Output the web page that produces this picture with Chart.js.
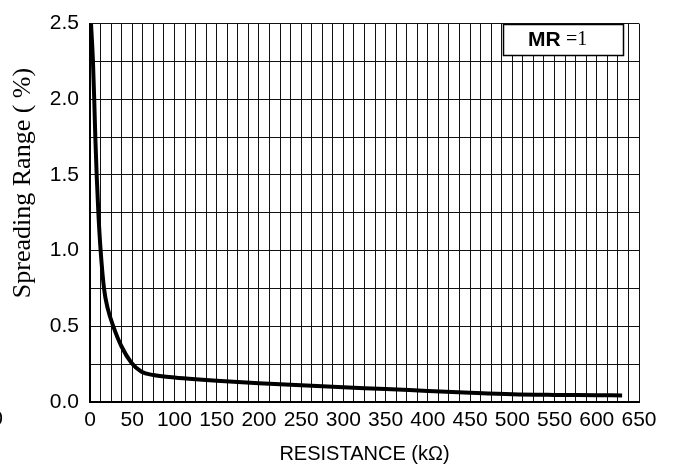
<!DOCTYPE html>
<html>
<head>
<meta charset="utf-8">
<script src="https://cdn.jsdelivr.net/npm/chart.js@4/dist/chart.umd.min.js"></script>
<style>
  html, body { margin: 0; padding: 0; background: #fff; }
  #c { display: block; }
</style>
</head>
<body>
<canvas id="c" width="681" height="468"></canvas>
<script>
// ---- data ----
const resistance = [1.2, 3.5, 5, 6.3, 7.9, 9.9, 12.6, 16.6, 20.9, 27.6, 37.5, 49, 61, 75, 100, 125, 150, 200, 250, 300, 350, 400, 450, 500, 550, 600, 630];
const spreading  = [2.5, 2.25, 2.0, 1.75, 1.5, 1.25, 1.0, 0.75, 0.62, 0.5, 0.365, 0.26, 0.2, 0.178, 0.162, 0.15, 0.14, 0.124, 0.11, 0.097, 0.086, 0.073, 0.061, 0.051, 0.047, 0.045, 0.043];
const xTickLabels = ["0","50","100","150","200","250","300","350","400","450","500","550","600","650"];
const yTickLabels = ["0.0","0.5","1.0","1.5","2.0","2.5"];
const xTitle = "RESISTANCE (k\u03A9)";
const yTitle = "Spreading Range ( %)";
const legendBold = "MR";
const legendRest = "=1";

const points = resistance.map((x, i) => ({ x: x, y: spreading[i] }));

const overlayPlugin = {
  id: 'overlay',
  afterDraw(chart) {
    const ctx = chart.ctx;
    ctx.save();
    // y-axis title (rotated)
    ctx.translate(23, 183);
    ctx.rotate(-Math.PI / 2);
    ctx.fillStyle = '#000';
    ctx.font = '26px "Liberation Serif", serif';
    ctx.textAlign = 'center';
    ctx.textBaseline = 'middle';
    ctx.fillText(yTitle, 0, 0);
    ctx.restore();

    // legend box
    ctx.save();
    const bx = 503, by = 24, bw = 120, bh = 31;
    ctx.fillStyle = '#fff';
    ctx.fillRect(bx, by, bw, bh);
    ctx.strokeStyle = '#000';
    ctx.lineWidth = 1.5;
    ctx.strokeRect(bx + 0.5, by + 0.5, bw, bh);
    ctx.fillStyle = '#000';
    ctx.textBaseline = 'middle';
    ctx.textAlign = 'left';
    ctx.font = 'bold 21px "Liberation Sans", Arial, sans-serif';
    ctx.fillText(legendBold, 528, 40);
    ctx.font = '20px "Liberation Serif", serif';
    ctx.fillText(legendRest, 566, 40);
    ctx.restore();

    // stray clipped "0" at left edge
    ctx.save();
    ctx.fillStyle = '#000';
    ctx.font = '21px "Liberation Sans", Arial, sans-serif';
    ctx.textAlign = 'center';
    ctx.textBaseline = 'middle';
    ctx.fillText('0', -3, 419);
    ctx.restore();
  }
};

new Chart(document.getElementById('c'), {
  type: 'line',
  data: {
    datasets: [{
      data: points,
      borderColor: '#000',
      borderWidth: 4,
      pointRadius: 0,
      fill: false,
      cubicInterpolationMode: 'monotone',
      tension: 0.4
    }]
  },
  options: {
    responsive: false,
    animation: false,
    layout: { autoPadding: false, padding: { left: 0, top: 16, right: 42, bottom: 0 } },
    plugins: { legend: { display: false }, tooltip: { enabled: false } },
    scales: {
      x: {
        type: 'linear',
        min: 0, max: 650,
        afterFit(s) { s.height = 66; },
        border: { display: true, color: '#000', width: 2 },
        grid: { color: '#111', lineWidth: 1, drawTicks: false },
        ticks: {
          stepSize: 12.5,
          autoSkip: false,
          maxRotation: 0,
          padding: 6,
          color: '#000',
          font: { family: '"Liberation Sans", Arial, sans-serif', size: 21 },
          callback(v) {
            const idx = Math.round(v / 50);
            return (Math.abs(v - idx * 50) < 1e-6) ? xTickLabels[idx] : '';
          }
        },
        title: {
          display: true,
          text: xTitle,
          color: '#000',
          font: { family: '"Liberation Sans", Arial, sans-serif', size: 20 },
          padding: { top: 0, bottom: 2 }
        }
      },
      y: {
        type: 'linear',
        min: 0, max: 2.5,
        afterFit(s) { s.width = 90; },
        border: { display: true, color: '#000', width: 2 },
        grid: { color: '#111', lineWidth: 1, drawTicks: false },
        ticks: {
          stepSize: 0.25,
          autoSkip: false,
          padding: 11,
          color: '#000',
          font: { family: '"Liberation Sans", Arial, sans-serif', size: 21 },
          callback(v) {
            const idx = Math.round(v / 0.5);
            return (Math.abs(v - idx * 0.5) < 1e-6) ? yTickLabels[idx] : '';
          }
        }
      }
    }
  },
  plugins: [overlayPlugin]
});
</script>
</body>
</html>
